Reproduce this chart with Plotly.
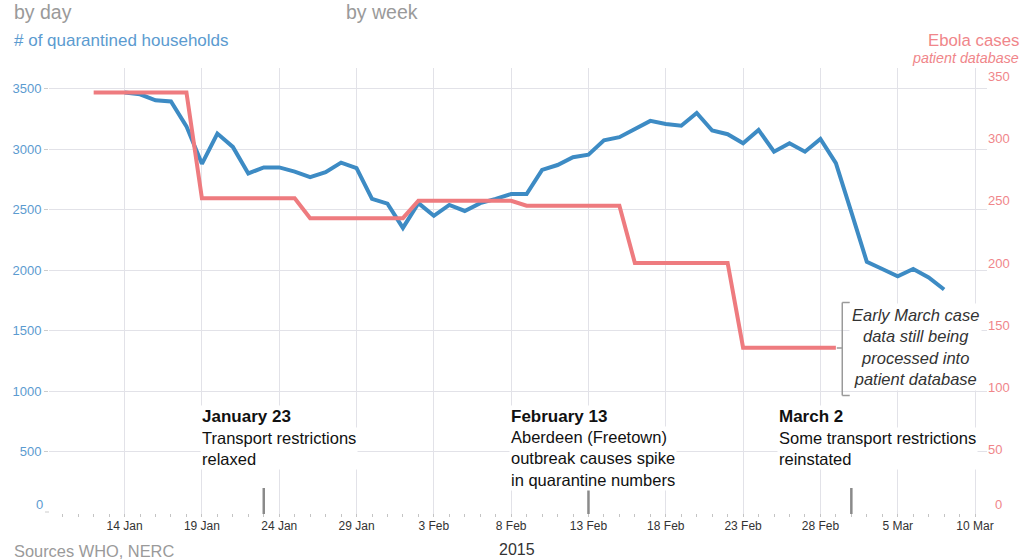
import pandas as pd
import plotly.graph_objects as go

# ---------------- data ----------------
blue_start = "2015-01-14"
households = [3470, 3455, 3405, 3395, 3190, 2880, 3130, 3020, 2800, 2850,
              2850, 2815, 2770, 2810, 2890, 2845, 2590, 2550, 2350, 2555,
              2450, 2540, 2490, 2555, 2590, 2630, 2630, 2830, 2870, 2935,
              2955, 3075, 3100, 3165, 3235, 3210, 3195, 3300, 3155, 3125,
              3050, 3160, 2980, 3050, 2980, 3085, 2885, 2480, 2070, 2010,
              1950, 2010, 1940, 1840]
week_starts = ["2015-01-12", "2015-01-19", "2015-01-26", "2015-02-02",
               "2015-02-09", "2015-02-16", "2015-02-23"]
weekly_cases = [337, 252, 236, 250, 246, 200, 132]

tick_dates = ["2015-01-14", "2015-01-19", "2015-01-24", "2015-01-29",
              "2015-02-03", "2015-02-08", "2015-02-13", "2015-02-18",
              "2015-02-23", "2015-02-28", "2015-03-05", "2015-03-10"]
tick_labels = ["14 Jan", "19 Jan", "24 Jan", "29 Jan", "3 Feb", "8 Feb",
               "13 Feb", "18 Feb", "23 Feb", "28 Feb", "5 Mar", "10 Mar"]
left_ticks = [500, 1000, 1500, 2000, 2500, 3000, 3500]
right_ticks = [50, 100, 150, 200, 250, 300, 350]

events = [("2015-01-23", "2015-01-18 21:00", "January 23",
           "Transport restrictions<br>relaxed", 2),
          ("2015-02-13", "2015-02-07 21:00", "February 13",
           "Aberdeen (Freetown)<br>outbreak causes spike<br>in quarantine numbers", 3),
          ("2015-03-02", "2015-02-25 04:00", "March 2",
           "Some transport restrictions<br>reinstated", 2)]

# ---------------- geometry ----------------
W_FIG, H_FIG = 1022, 560
L, R, T, B = 47, 990, 68, 517
PX_DAY = 15.545
X_REF_PX = 123  # 14 Jan

def px(x):
    return (x - L) / (R - L)

def py(y):
    return (B - y) / (B - T)

ref = pd.Timestamp("2015-01-14")
x0 = ref + pd.Timedelta(days=(L - X_REF_PX) / PX_DAY)
x1 = ref + pd.Timedelta(days=(R - X_REF_PX) / PX_DAY)

left_scale = 0.1209   # px per household
right_scale = 1.245   # px per case
zero_px = 512
yl_range = [-(B - zero_px) / left_scale, (zero_px - T) / left_scale]
yr_range = [-(B - zero_px) / right_scale, (zero_px - T) / right_scale]

BLUE = "#3d8bc4"
RED = "#ee7b7f"
BLUE_TXT = "#5b9bd0"
RED_TXT = "#f0868a"
GRID = "#e2e2e8"
FONT = "Liberation Sans, Arial, sans-serif"

blue_dates = pd.date_range(blue_start, periods=len(households), freq="D")

red_x, red_y = [], []
for ws, v in zip(week_starts, weekly_cases):
    s = pd.Timestamp(ws)
    red_x += [s, s + pd.Timedelta(days=6)]
    red_y += [v, v]

fig = go.Figure()
fig.add_trace(go.Scatter(x=blue_dates, y=households, mode="lines",
                         line=dict(color=BLUE, width=4), yaxis="y",
                         hoverinfo="skip"))
fig.add_trace(go.Scatter(x=red_x, y=red_y, mode="lines",
                         line=dict(color=RED, width=4), yaxis="y2",
                         hoverinfo="skip"))

fig.update_layout(
    width=W_FIG, height=H_FIG,
    margin=dict(l=L, r=W_FIG - R, t=T, b=H_FIG - B),
    paper_bgcolor="white", plot_bgcolor="white",
    showlegend=False,
    font=dict(family=FONT, color="#333"),
    xaxis=dict(range=[x0, x1], tickvals=tick_dates, ticktext=tick_labels,
               showgrid=True, gridcolor=GRID, gridwidth=1, zeroline=False,
               showline=False, ticks="", tickfont=dict(size=12, color="#333"),
               minor=dict(dtick=86400000, ticks="inside", ticklen=3,
                          tickcolor="#c4c4c4", tickwidth=1, showgrid=False)),
    yaxis=dict(range=yl_range, tickvals=left_ticks, showgrid=True,
               gridcolor=GRID, gridwidth=1, zeroline=False, showline=False,
               ticks="outside", ticklen=4, tickcolor="#cccccc",
               tickfont=dict(size=13, color=BLUE_TXT)),
    yaxis2=dict(range=yr_range, tickvals=right_ticks, overlaying="y",
                side="right", showgrid=False, zeroline=False, showline=False,
                ticks="", tickfont=dict(size=13, color=RED_TXT)),
)

ann = []
shapes = []
# header texts
ann.append(dict(text="by day", x=px(10), y=py(12), xref="paper", yref="paper",
                xanchor="left", yanchor="middle", showarrow=False,
                font=dict(size=19.5, color="#9a9a9a")))
ann.append(dict(text="by week", x=px(344), y=py(12), xref="paper", yref="paper",
                xanchor="left", yanchor="middle", showarrow=False,
                font=dict(size=19.5, color="#9a9a9a")))
ann.append(dict(text="# of quarantined households", x=px(10), y=py(41),
                xref="paper", yref="paper", xanchor="left", yanchor="middle",
                showarrow=False, font=dict(size=17, color=BLUE_TXT)))
ann.append(dict(text="Ebola cases", x=px(1024), y=py(41), xref="paper",
                yref="paper", xanchor="right", yanchor="middle",
                showarrow=False, font=dict(size=16.8, color=RED_TXT)))
ann.append(dict(text="<i>patient database</i>", x=px(1024), y=py(58),
                xref="paper", yref="paper", xanchor="right", yanchor="middle",
                showarrow=False, font=dict(size=14.3, color=RED_TXT)))
# zero labels
ann.append(dict(text="0", x=px(43), y=py(504), xref="paper", yref="paper",
                xanchor="right", yanchor="middle", showarrow=False,
                font=dict(size=13, color=BLUE_TXT)))
ann.append(dict(text="0", x=px(996), y=py(504), xref="paper", yref="paper",
                xanchor="left", yanchor="middle", showarrow=False,
                font=dict(size=13, color=RED_TXT)))
shapes.append(dict(type="line", xref="paper", yref="paper", x0=px(43),
                   x1=px(47), y0=py(512), y1=py(512),
                   line=dict(color="#cccccc", width=1)))
# footer
ann.append(dict(text="Sources WHO, NERC", x=px(10), y=py(551), xref="paper",
                yref="paper", xanchor="left", yanchor="middle",
                showarrow=False, font=dict(size=16.4, color="#9a9a9a")))
ann.append(dict(text="2015", x=px(517), y=py(549), xref="paper", yref="paper",
                xanchor="center", yanchor="middle", showarrow=False,
                font=dict(size=16, color="#333")))

# events
for mark_date, text_x, title, body, nlines in events:
    shapes.append(dict(type="line", xref="x", yref="paper", x0=mark_date,
                       x1=mark_date, y0=py(514), y1=py(488),
                       line=dict(color="#8a8a8a", width=2.5)))
    ann.append(dict(text="<b>" + title + "</b>", x=text_x, y=py(416),
                    xref="x", yref="paper", xanchor="left", yanchor="middle",
                    showarrow=False, bgcolor="white", borderpad=1,
                    font=dict(size=17, color="#111")))
    center = 438 + (nlines - 1) * 20 / 2
    ann.append(dict(text=body, x=text_x, y=py(center), xref="x",
                    yref="paper", xanchor="left", yanchor="middle",
                    align="left", showarrow=False, bgcolor="white",
                    borderpad=1, font=dict(size=16.5, color="#111")))

# early March note with bracket
ann.append(dict(text="<i>Early March case<br>data still being<br>processed into<br>patient database</i>",
                x=px(918), y=py(346.5), xref="paper", yref="paper",
                xanchor="center", yanchor="middle", align="center",
                showarrow=False, bgcolor="white", borderpad=2,
                font=dict(size=16.5, color="#333")))
bx = 844.5
for (xa, ya, xb, yb) in [(bx, 302.5, bx, 395.5), (bx, 302.5, 852, 302.5),
                         (bx, 395.5, 852, 395.5), (839, 348, bx, 348)]:
    shapes.append(dict(type="line", xref="paper", yref="paper", x0=px(xa),
                       x1=px(xb), y0=py(ya), y1=py(yb),
                       line=dict(color="#9a9a9a", width=1.5)))

fig.update_layout(annotations=ann, shapes=shapes)
fig.write_html("out.html", config={"displayModeBar": False},
               post_script="document.body.style.margin='0px';"
                           "document.body.style.overflow='hidden';")
